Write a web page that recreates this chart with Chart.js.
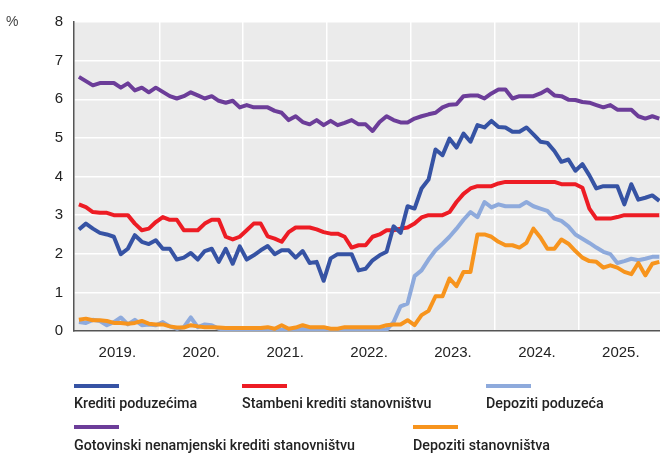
<!DOCTYPE html>
<html>
<head>
<meta charset="utf-8">
<script src="https://cdn.jsdelivr.net/npm/chart.js@4.4.1/dist/chart.umd.min.js"></script>
<style>
  html, body { margin: 0; padding: 0; background: #fff; }
  #wrap { position: relative; width: 660px; height: 466px; overflow: hidden; }
  #c { position: absolute; left: 0; top: 0; }
  .lg { position: absolute; font-family: Roboto, "Liberation Sans", sans-serif; font-size: 15px; font-weight: 500; color: #222; line-height: 18px; white-space: nowrap; transform-origin: 0 50%; }
  .sw { position: absolute; width: 45px; height: 4px; }
  #pct { position: absolute; left: 6px; top: 13px; font-family: "Liberation Sans", Arial, sans-serif; font-size: 14px; color: #444; }
</style>
</head>
<body>
<div id="wrap">
  <canvas id="c" width="660" height="466"></canvas>
  <div id="pct">%</div>
  <div id="legend"></div>
</div>
<script>
// Monthly data, Jan 2019 – Dec 2025
const years = ['2019.', '2020.', '2021.', '2022.', '2023.', '2024.', '2025.'];

const kreditiPoduzecima = [
  2.63, 2.78, 2.65, 2.54, 2.50, 2.44, 1.99, 2.13, 2.48, 2.31, 2.25, 2.35,
  2.13, 2.13, 1.85, 1.90, 2.02, 1.85, 2.07, 2.13, 1.79, 2.13, 1.74, 2.19,
  1.85, 1.96, 2.09, 2.20, 1.99, 2.09, 2.09, 1.90, 2.07, 1.76, 1.79, 1.30,
  1.88, 1.99, 1.99, 1.99, 1.57, 1.61, 1.83, 1.96, 2.05, 2.71, 2.54, 3.23,
  3.17, 3.69, 3.92, 4.70, 4.55, 4.98, 4.75, 5.11, 4.90, 5.33, 5.27, 5.44,
  5.28, 5.27, 5.16, 5.16, 5.27, 5.09, 4.90, 4.87, 4.66, 4.38, 4.44, 4.15,
  4.32, 4.03, 3.69, 3.75, 3.75, 3.75, 3.28, 3.80, 3.40, 3.45, 3.51, 3.37
];

const stambeniKrediti = [
  3.28, 3.21, 3.08, 3.06, 3.06, 3.00, 3.00, 3.00, 2.78, 2.61, 2.65, 2.82,
  2.95, 2.88, 2.88, 2.61, 2.61, 2.61, 2.78, 2.88, 2.88, 2.44, 2.37, 2.44,
  2.61, 2.78, 2.78, 2.45, 2.39, 2.31, 2.56, 2.68, 2.68, 2.68, 2.63, 2.56,
  2.52, 2.52, 2.44, 2.16, 2.22, 2.22, 2.44, 2.50, 2.61, 2.61, 2.65, 2.68,
  2.78, 2.94, 3.00, 3.00, 3.00, 3.08, 3.34, 3.55, 3.69, 3.75, 3.75, 3.75,
  3.82, 3.86, 3.86, 3.86, 3.86, 3.86, 3.86, 3.86, 3.86, 3.80, 3.80, 3.80,
  3.71, 3.17, 2.91, 2.91, 2.91, 2.95, 3.00, 3.00, 3.00, 3.00, 3.00, 3.00
];

const depozitiPoduzeca = [
  0.23, 0.21, 0.29, 0.26, 0.15, 0.23, 0.35, 0.17, 0.29, 0.15, 0.17, 0.15,
  0.23, 0.12, 0.06, 0.10, 0.35, 0.10, 0.17, 0.15, 0.06, 0.03, 0.04, 0.05,
  0.05, 0.04, 0.04, 0.05, 0.04, 0.03, 0.00, 0.04, 0.05, 0.04, 0.05, 0.04,
  0.05, 0.05, 0.04, 0.05, 0.05, 0.04, 0.05, 0.04, 0.03, 0.23, 0.64, 0.71,
  1.42, 1.57, 1.85, 2.09, 2.26, 2.44, 2.65, 2.88, 3.08, 2.95, 3.34, 3.20,
  3.28, 3.23, 3.23, 3.23, 3.34, 3.23, 3.17, 3.11, 2.91, 2.85, 2.71, 2.50,
  2.39, 2.28, 2.16, 2.05, 1.99, 1.76, 1.81, 1.87, 1.83, 1.87, 1.92, 1.92
];

const gotovinskiKrediti = [
  6.58, 6.47, 6.36, 6.42, 6.42, 6.42, 6.30, 6.41, 6.23, 6.30, 6.18, 6.30,
  6.19, 6.08, 6.02, 6.08, 6.18, 6.10, 6.02, 6.08, 5.96, 5.91, 5.96, 5.79,
  5.85, 5.79, 5.79, 5.79, 5.70, 5.65, 5.46, 5.56, 5.41, 5.35, 5.46, 5.33,
  5.44, 5.33, 5.39, 5.46, 5.35, 5.35, 5.18, 5.41, 5.56, 5.46, 5.40, 5.40,
  5.50, 5.56, 5.61, 5.65, 5.79, 5.86, 5.87, 6.08, 6.10, 6.10, 6.02, 6.15,
  6.25, 6.25, 6.02, 6.08, 6.08, 6.08, 6.15, 6.25, 6.10, 6.08, 5.99, 5.98,
  5.93, 5.91, 5.85, 5.79, 5.85, 5.73, 5.73, 5.73, 5.56, 5.50, 5.56, 5.50
];

const depozitiStanovnistva = [
  0.29, 0.32, 0.28, 0.28, 0.26, 0.21, 0.21, 0.19, 0.21, 0.26, 0.19, 0.17,
  0.17, 0.12, 0.09, 0.09, 0.15, 0.12, 0.10, 0.10, 0.09, 0.08, 0.08, 0.08,
  0.08, 0.08, 0.08, 0.10, 0.06, 0.15, 0.06, 0.09, 0.15, 0.10, 0.10, 0.10,
  0.06, 0.06, 0.10, 0.10, 0.10, 0.10, 0.10, 0.10, 0.15, 0.17, 0.17, 0.28,
  0.15, 0.41, 0.52, 0.90, 0.90, 1.36, 1.16, 1.53, 1.53, 2.50, 2.50, 2.44,
  2.31, 2.22, 2.22, 2.16, 2.28, 2.65, 2.42, 2.13, 2.13, 2.37, 2.26, 2.07,
  1.90, 1.81, 1.79, 1.64, 1.70, 1.64, 1.53, 1.47, 1.76, 1.44, 1.74, 1.79
];

const seriesNames = [
  'Krediti poduzećima',
  'Stambeni krediti stanovništvu',
  'Depoziti poduzeća',
  'Gotovinski nenamjenski krediti stanovništvu',
  'Depoziti stanovništva'
];
const seriesColors = ['#3653a4', '#ed1c24', '#8eaadc', '#6c3d99', '#f7941d'];
const seriesData = [kreditiPoduzecima, stambeniKrediti, depozitiPoduzeca, gotovinskiKrediti, depozitiStanovnistva];
const drawOrder = [1, 3, 4, 2, 0]; // higher = drawn first (below)

const toPts = arr => arr.map((v, i) => ({ x: i, y: v }));

const bgPlugin = {
  id: 'plotBg',
  beforeDraw(chart) {
    const { ctx, chartArea: a } = chart;
    ctx.save();
    ctx.fillStyle = '#ebebeb';
    ctx.fillRect(a.left, a.top, a.right - a.left, a.bottom - a.top);
    ctx.restore();
  }
};

const axisFont = { family: '"Liberation Sans", Arial, sans-serif', size: 15 };

new Chart(document.getElementById('c'), {
  type: 'line',
  data: {
    datasets: seriesData.map((d, k) => ({
      label: seriesNames[k],
      data: toPts(d),
      borderColor: seriesColors[k],
      backgroundColor: seriesColors[k],
      borderWidth: 4,
      pointRadius: 0,
      tension: 0,
      borderJoinStyle: 'round',
      order: drawOrder[k]
    }))
  },
  options: {
    responsive: false,
    animation: false,
    layout: { padding: { top: 22, left: 0, right: 0, bottom: 0 } },
    plugins: { legend: { display: false }, tooltip: { enabled: false } },
    scales: {
      x: {
        type: 'linear',
        min: -0.7,
        max: 83.1,
        afterBuildTicks(s) {
          const t = [];
          for (let k = 0; k < years.length; k++) {
            t.push({ value: 5.5 + 12 * k });
            if (k < years.length - 1) t.push({ value: 11.5 + 12 * k });
          }
          s.ticks = t;
        },
        afterFit(s) { s.height = 135; },
        ticks: {
          autoSkip: false,
          maxRotation: 0,
          padding: 13,
          color: '#222',
          font: axisFont,
          callback(v) {
            const k = (v - 5.5) / 12;
            return Number.isInteger(k) ? years[k] : '';
          }
        },
        grid: {
          drawTicks: false,
          lineWidth: 1.5,
          color(ctx) {
            const v = ctx.tick ? ctx.tick.value : 0;
            return Number.isInteger((v - 11.5) / 12) ? '#ffffff' : 'rgba(0,0,0,0)';
          }
        },
        border: { display: true, color: '#555', width: 1.5 }
      },
      y: {
        min: 0,
        max: 8,
        afterFit(s) { s.width = 74; },
        ticks: { stepSize: 1, padding: 11, color: '#222', font: axisFont },
        grid: { drawTicks: false, color: '#ffffff', lineWidth: 1.5 },
        border: { display: true, color: '#555', width: 1.5 }
      }
    }
  },
  plugins: [bgPlugin]
});

// HTML legend: swatch above label (condensed to the reference's narrow face)
const legendPos = [
  { x: 74, sy: 384, ty: 394 },
  { x: 242, sy: 384, ty: 394 },
  { x: 486, sy: 384, ty: 394 },
  { x: 74, sy: 425, ty: 436 },
  { x: 413, sy: 425, ty: 436 }
];
const lg = document.getElementById('legend');
const labels = [];
seriesNames.forEach((n, k) => {
  const sw = document.createElement('div');
  sw.className = 'sw';
  sw.style.left = legendPos[k].x + 'px';
  sw.style.top = legendPos[k].sy + 'px';
  sw.style.background = seriesColors[k];
  lg.appendChild(sw);
  const t = document.createElement('div');
  t.className = 'lg';
  t.style.left = legendPos[k].x + 'px';
  t.style.top = legendPos[k].ty + 'px';
  t.textContent = n;
  lg.appendChild(t);
  labels.push(t);
});
// uniform horizontal condensing so the longest label spans ~281px as in the reference
const longest = labels[3].getBoundingClientRect().width;
const f = Math.min(1, 281 / longest);
labels.forEach(t => { t.style.transform = 'scaleX(' + f + ')'; });
</script>
</body>
</html>
